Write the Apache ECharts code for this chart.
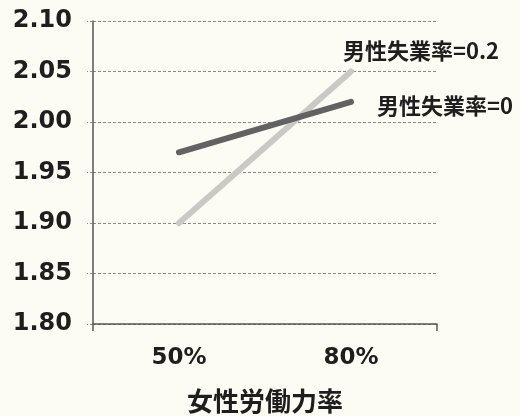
<!DOCTYPE html>
<html>
<head>
<meta charset="utf-8">
<script src="https://cdn.jsdelivr.net/npm/echarts@6/dist/echarts.min.js"></script>
<style>
  html, body { margin: 0; padding: 0; background: #fdfcf4; }
  #chart { width: 520px; height: 416px; }
</style>
</head>
<body>
<div id="chart"></div>
<script>
// 女性労働力率ごとの値（男性失業率別）
const categories = ['50%', '80%'];
const seriesNames = ['男性失業率=0', '男性失業率=0.2'];
const unemp0 = [1.97, 2.02];
const unemp02 = [1.90, 2.05];
const yTicks = { min: 1.80, max: 2.10, step: 0.05 };
const xTitle = '女性労働力率';

const chart = echarts.init(document.getElementById('chart'), null, { renderer: 'canvas' });

const gridDash = { color: '#8a8a88', width: 1, type: [3, 2] };
const endLabelFont = {
  color: '#1e1e1e',
  fontFamily: 'Noto Sans CJK JP',
  fontWeight: 'bold',
  fontSize: 22
};

chart.setOption({
  backgroundColor: '#fdfcf4',
  animation: false,
  grid: { left: 93, right: 83, top: 21, bottom: 92, containLabel: false, outerBoundsMode: 'none' },
  xAxis: {
    type: 'category',
    data: categories,
    boundaryGap: true,
    axisLine: { show: true, lineStyle: { color: '#555', width: 1.5 } },
    axisTick: {
      show: true, length: 7,
      interval: function (idx) { return idx === 0; },
      lineStyle: { color: '#555', width: 1.5 }
    },
    axisLabel: {
      margin: 23,
      color: '#1e1e1e',
      fontFamily: 'DejaVu Sans',
      fontWeight: 'bold',
      fontSize: 23,
      offset: [-4, 0]
    },
    name: xTitle,
    nameLocation: 'middle',
    nameGap: 64,
    nameTextStyle: {
      color: '#1e1e1e',
      fontFamily: 'Noto Sans CJK JP',
      fontWeight: 'bold',
      fontSize: 26,
      verticalAlign: 'top'
    }
  },
  yAxis: {
    type: 'value',
    min: yTicks.min,
    max: yTicks.max,
    interval: yTicks.step,
    axisLine: { show: true, lineStyle: { color: '#555', width: 1.5 } },
    axisTick: { show: true, length: 6, lineStyle: gridDash },
    splitLine: { show: true, lineStyle: gridDash },
    axisLabel: {
      margin: 21,
      color: '#1e1e1e',
      fontFamily: 'DejaVu Sans',
      fontWeight: 'bold',
      fontSize: 24,
      formatter: function (v) { return v.toFixed(2); }
    }
  },
  series: [
    {
      name: seriesNames[1],
      type: 'line',
      data: unemp02,
      symbol: 'none',
      lineStyle: { color: '#c9c9c6', width: 6, cap: 'round' },
      endLabel: Object.assign({
        show: true,
        formatter: '{a}',
        distance: 0,
        offset: [-8, -21]
      }, endLabelFont),
      z: 2
    },
    {
      name: seriesNames[0],
      type: 'line',
      data: unemp0,
      symbol: 'none',
      lineStyle: { color: '#626262', width: 6, cap: 'round' },
      endLabel: Object.assign({
        show: true,
        formatter: '{a}',
        distance: 26,
        offset: [0, 4]
      }, endLabelFont),
      z: 3
    }
  ]
});
</script>
</body>
</html>
